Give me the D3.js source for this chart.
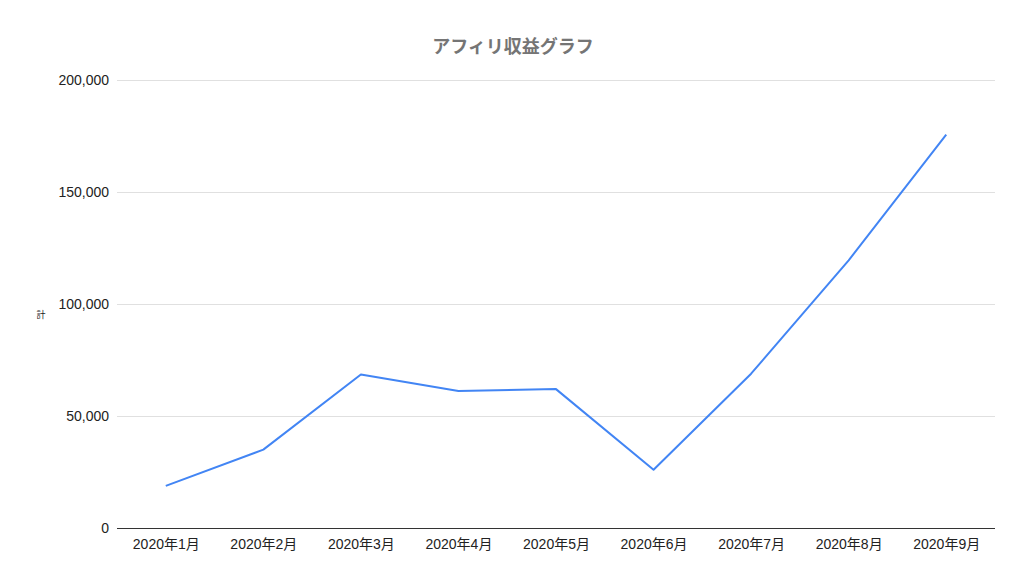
<!DOCTYPE html>
<html><head><meta charset="utf-8">
<script src="https://cdn.jsdelivr.net/npm/d3@7"></script>
<style>
html,body{margin:0;padding:0;background:#fff;}
text{font-family:Arial,"Liberation Sans","Noto Sans CJK JP",sans-serif;}
</style></head>
<body><svg id="c" width="1024" height="582"></svg>
<script>
const categories = ["2020年1月","2020年2月","2020年3月","2020年4月","2020年5月","2020年6月","2020年7月","2020年8月","2020年9月"];
const values = [18800, 35000, 68500, 61200, 62000, 26000, 68900, 119500, 175600];
const yTicks = [0, 50000, 100000, 150000, 200000];
const title = "アフィリ収益グラフ";
const yTitle = "計";

const svg = d3.select("#c");
const m = {left:117, right:995, top:80, bottom:528};
const x = d3.scalePoint().domain(categories).range([m.left, m.right]).padding(0.5);
const y = d3.scaleLinear().domain([0, 200000]).range([m.bottom, m.top]);

svg.append("rect").attr("width",1024).attr("height",582).attr("fill","#fff");

svg.append("text").attr("x",513).attr("y",53).attr("text-anchor","middle")
  .attr("font-size",18).attr("font-weight","bold").attr("fill","#757575")
  .attr("font-family","'Noto Sans CJK JP',sans-serif").text(title);

// gridlines
svg.append("g").selectAll("line").data(yTicks.filter(d=>d>0)).join("line")
  .attr("x1",m.left).attr("x2",m.right)
  .attr("y1",d=>Math.round(y(d))+0.5).attr("y2",d=>Math.round(y(d))+0.5)
  .attr("stroke","#e0e0e0").attr("stroke-width",1);

// y axis labels
const yAxis = d3.axisLeft(y).tickValues(yTicks).tickSize(0).tickPadding(0)
  .tickFormat(d3.format(","));
const gy = svg.append("g").attr("transform",`translate(109,0)`).call(yAxis);
gy.select(".domain").remove();
gy.selectAll("text").attr("font-size",14).attr("fill","#222")
  .attr("font-family","Arial,'Liberation Sans',sans-serif");

// x axis
const xAxis = d3.axisBottom(x).tickSize(0).tickPadding(11);
const gx = svg.append("g").attr("transform",`translate(0,${m.bottom})`).call(xAxis);
gx.select(".domain").remove();
gx.selectAll("text").attr("font-size",14).attr("fill","#222")
  .attr("font-family","Arial,'Noto Sans CJK JP',sans-serif");
svg.append("line").attr("x1",m.left).attr("x2",m.right)
  .attr("y1",m.bottom+0.5).attr("y2",m.bottom+0.5).attr("stroke","#333").attr("stroke-width",1);

// y title
svg.append("text").attr("x",41).attr("y",318).attr("text-anchor","middle")
  .attr("font-size",9).attr("fill","#222")
  .attr("font-family","'Noto Sans CJK JP',sans-serif").text(yTitle);

// line
const line = d3.line().x((d,i)=>x(categories[i])).y(d=>y(d));
svg.append("path").datum(values).attr("d",line).attr("fill","none")
  .attr("stroke","#4285F4").attr("stroke-width",2).attr("stroke-linejoin","round");
</script></body></html>
